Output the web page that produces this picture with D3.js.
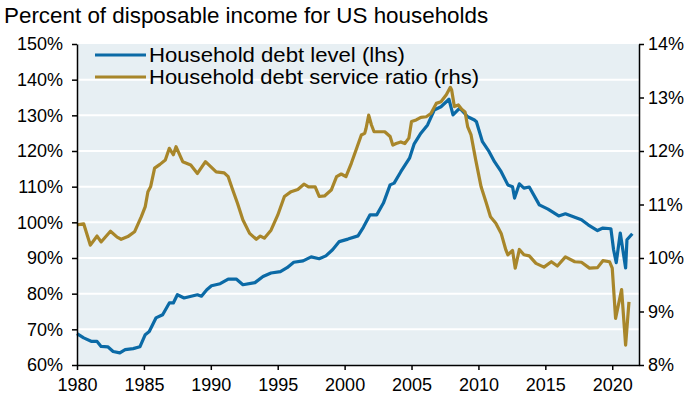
<!DOCTYPE html>
<html>
<head>
<meta charset="utf-8">
<script src="https://cdn.jsdelivr.net/npm/d3@7"></script>
<style>
  html, body { margin: 0; padding: 0; background: #fff; }
  svg { display: block; font-family: "Liberation Sans", Arial, sans-serif; }
</style>
</head>
<body>
<svg id="chart" width="694" height="400"></svg>
<script>
const title = "Percent of disposable income for US households";
const seriesNames = ["Household debt level (lhs)", "Household debt service ratio (rhs)"];
const xTicks = [1980, 1985, 1990, 1995, 2000, 2005, 2010, 2015, 2020];
const leftTicks = [60, 70, 80, 90, 100, 110, 120, 130, 140, 150];
const rightTicks = [8, 9, 10, 11, 12, 13, 14];

const debtYears = [1980.0, 1980.5, 1981.1, 1981.5, 1981.8, 1982.3, 1982.7, 1983.2, 1983.6, 1984.2, 1984.7, 1985.1, 1985.4, 1985.9, 1986.4, 1986.9, 1987.2, 1987.5, 1988.0, 1989.0, 1989.3, 1989.7, 1990.05, 1990.7, 1991.3, 1991.9, 1992.4, 1993.3, 1993.9, 1994.5, 1995.2, 1995.7, 1996.2, 1996.9, 1997.5, 1998.1, 1998.6, 1999.1, 1999.6, 2000.25, 2001.0, 2001.4, 2001.9, 2002.4, 2002.9, 2003.4, 2003.7, 2004.2, 2004.85, 2005.2, 2005.7, 2006.2, 2006.7, 2007.2, 2007.8, 2008.1, 2008.6, 2009.2, 2009.7, 2009.85, 2010.3, 2010.8, 2011.2, 2011.7, 2012.2, 2012.55, 2012.7, 2013.06, 2013.4, 2013.8, 2014.55, 2015.2, 2016.0, 2016.5, 2017.7, 2018.2, 2018.9, 2019.3, 2019.9, 2020.1, 2020.3, 2020.6, 2021.0, 2021.1, 2021.5];
const debtLevel = [68.8, 67.6, 66.6, 66.6, 65.2, 65.1, 63.8, 63.4, 64.3, 64.6, 65.1, 68.5, 69.4, 73.2, 74.1, 77.4, 77.4, 79.7, 78.8, 79.7, 79.3, 81.1, 82.2, 82.8, 84.1, 84.1, 82.5, 83.1, 84.8, 85.8, 86.2, 87.3, 88.8, 89.2, 90.3, 89.8, 90.6, 92.3, 94.6, 95.3, 96.2, 98.6, 102.1, 102.1, 105.4, 110.5, 111.0, 114.2, 118.0, 122.0, 125.0, 127.3, 131.5, 132.4, 134.5, 130.1, 132.0, 129.6, 128.7, 128.2, 122.6, 119.8, 117.0, 114.2, 110.5, 110.0, 106.8, 110.8, 109.6, 109.9, 104.9, 103.7, 101.8, 102.4, 100.7, 99.3, 97.7, 98.4, 98.2, 92.3, 88.7, 97.0, 87.2, 95.1, 96.8];

const dsrYears = [1980.0, 1980.5, 1981.0, 1981.5, 1981.8, 1982.5, 1983.0, 1983.3, 1983.8, 1984.3, 1984.8, 1985.1, 1985.3, 1985.5, 1985.8, 1986.2, 1986.6, 1986.9, 1987.2, 1987.4, 1987.9, 1988.5, 1989.0, 1989.6, 1990.4, 1991.0, 1991.3, 1991.6, 1992.0, 1992.4, 1992.9, 1993.4, 1993.7, 1994.0, 1994.5, 1995.0, 1995.5, 1996.0, 1996.5, 1996.96, 1997.3, 1997.8, 1998.1, 1998.5, 1999.0, 1999.4, 1999.75, 2000.1, 2000.5, 2000.9, 2001.25, 2001.5, 2001.6, 2001.8, 2002.0, 2002.2, 2002.6, 2003.0, 2003.4, 2003.6, 2003.85, 2004.2, 2004.5, 2004.8, 2005.0, 2005.35, 2005.7, 2006.1, 2006.45, 2006.85, 2007.2, 2007.6, 2007.9, 2008.0, 2008.2, 2008.5, 2008.75, 2009.0, 2009.2, 2009.45, 2009.8, 2010.2, 2010.6, 2010.9, 2011.3, 2011.7, 2012.05, 2012.2, 2012.55, 2012.75, 2013.06, 2013.4, 2013.8, 2014.3, 2014.9, 2015.45, 2015.9, 2016.5, 2017.2, 2017.7, 2018.3, 2018.9, 2019.3, 2019.8, 2020.0, 2020.25, 2020.7, 2021.0, 2021.25];
const serviceRatio = [10.62, 10.64, 10.24, 10.41, 10.30, 10.50, 10.39, 10.35, 10.40, 10.49, 10.77, 10.96, 11.24, 11.33, 11.68, 11.75, 11.83, 12.05, 11.93, 12.08, 11.80, 11.74, 11.58, 11.80, 11.61, 11.59, 11.52, 11.30, 11.02, 10.71, 10.46, 10.35, 10.41, 10.37, 10.52, 10.80, 11.15, 11.24, 11.28, 11.38, 11.33, 11.33, 11.15, 11.16, 11.27, 11.52, 11.57, 11.52, 11.77, 12.05, 12.30, 12.33, 12.42, 12.67, 12.49, 12.36, 12.36, 12.36, 12.27, 12.11, 12.14, 12.17, 12.14, 12.24, 12.55, 12.58, 12.63, 12.64, 12.70, 12.89, 12.92, 13.05, 13.19, 13.14, 12.83, 12.86, 12.78, 12.73, 12.45, 12.30, 11.83, 11.33, 11.02, 10.77, 10.65, 10.46, 10.15, 10.06, 10.14, 9.81, 10.16, 10.06, 10.04, 9.90, 9.83, 9.93, 9.85, 10.02, 9.93, 9.92, 9.81, 9.82, 9.95, 9.93, 9.81, 8.87, 9.41, 8.37, 9.18];

const W = 694, H = 400;
const margin = { top: 44, right: 55, bottom: 35, left: 77 };
const blue = "#0b6aa6", gold = "#a8862a";

const svg = d3.select("#chart");
const x = d3.scaleLinear().domain([1980, 2022]).range([margin.left, W - margin.right]);
const yL = d3.scaleLinear().domain([60, 150]).range([H - margin.bottom, margin.top]);
const yR = d3.scaleLinear().domain([8, 14]).range([H - margin.bottom, margin.top]);

// background
svg.append("rect")
  .attr("x", margin.left).attr("y", margin.top)
  .attr("width", W - margin.left - margin.right)
  .attr("height", H - margin.top - margin.bottom)
  .attr("fill", "#e7eff3");

// gridlines
svg.append("g").selectAll("line").data(leftTicks.filter(d => d > 60 && d < 150)).join("line")
  .attr("x1", margin.left).attr("x2", W - margin.right)
  .attr("y1", d => yL(d)).attr("y2", d => yL(d))
  .attr("stroke", "#fff").attr("stroke-width", 2);

// lines
const lineL = d3.line().x((d, i) => x(debtYears[i])).y(d => yL(d)).curve(d3.curveLinear);
const lineR = d3.line().x((d, i) => x(dsrYears[i])).y(d => yR(d)).curve(d3.curveLinear);
svg.append("path").datum(debtLevel).attr("d", lineL)
  .attr("fill", "none").attr("stroke", blue).attr("stroke-width", 3.2).attr("stroke-linejoin", "round");
svg.append("path").datum(serviceRatio).attr("d", lineR)
  .attr("fill", "none").attr("stroke", gold).attr("stroke-width", 3.2).attr("stroke-linejoin", "round");

// axes
const fontSize = 18;
const axL = svg.append("g").attr("transform", `translate(${margin.left},0)`)
  .call(d3.axisLeft(yL).tickValues(leftTicks).tickFormat(d => d + "%").tickSize(5).tickSizeOuter(0));
const axR = svg.append("g").attr("transform", `translate(${W - margin.right},0)`)
  .call(d3.axisRight(yR).tickValues(rightTicks).tickFormat(d => d + "%").tickSize(5).tickSizeOuter(0));
const axB = svg.append("g").attr("transform", `translate(0,${H - margin.bottom})`)
  .call(d3.axisBottom(x).tickValues(xTicks).tickFormat(d3.format("d")).tickSize(5).tickSizeOuter(0));
[axL, axR, axB].forEach(g => {
  g.selectAll(".domain").attr("stroke", "#000").attr("stroke-width", 1.5);
  g.selectAll(".tick line").attr("stroke", "#000").attr("stroke-width", 1.5);
  g.selectAll("text").attr("font-size", fontSize).attr("fill", "#000")
    .attr("font-family", "'Liberation Sans', Arial, sans-serif");
});
axL.selectAll("text").attr("x", -14);
axR.selectAll("text").attr("x", 9);
axB.selectAll("text").attr("y", 13);

// title
svg.append("text").attr("x", 4).attr("y", 23).attr("font-size", 22.4).attr("fill", "#000").text(title);

// legend
const legend = svg.append("g");
[blue, gold].forEach((c, i) => {
  const yy = 55 + i * 22;
  legend.append("line").attr("x1", 95).attr("x2", 146).attr("y1", yy).attr("y2", yy)
    .attr("stroke", c).attr("stroke-width", 3.2);
  legend.append("text").attr("x", 149).attr("y", yy + 7).attr("font-size", 21)
    .attr("textLength", i === 0 ? 256 : 330).attr("lengthAdjust", "spacingAndGlyphs")
    .attr("fill", "#000").text(seriesNames[i]);
});
</script>
</body>
</html>
